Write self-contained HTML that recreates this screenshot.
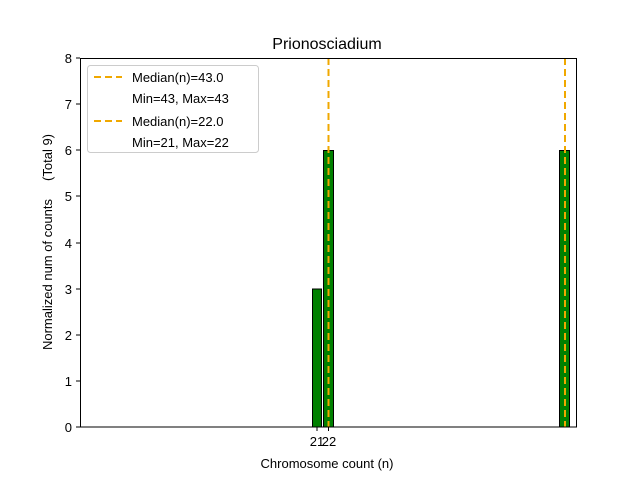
<!DOCTYPE html><html><head><style>body{margin:0;background:#fff}</style></head><body>
<svg width="640" height="480" xmlns="http://www.w3.org/2000/svg" font-family="Liberation Sans, DejaVu Sans, sans-serif">
<rect width="640" height="480" fill="#fff"/>
<g fill="#008000" stroke="#000" stroke-width="1">
<rect x="312.5" y="289" width="9" height="138"/>
<rect x="323.5" y="150.5" width="10" height="276.5"/>
<rect x="559.5" y="150.5" width="10" height="276.5"/>
</g>
<g stroke="#f0a800" stroke-width="2" stroke-dasharray="7,4">
<line x1="328.5" y1="58" x2="328.5" y2="427"/>
<line x1="565" y1="58" x2="565" y2="427"/>
</g>
<rect x="80.5" y="58.5" width="496" height="368.5" fill="none" stroke="#000"/>
<g stroke="#000"><line x1="76" y1="427" x2="80" y2="427"/><line x1="76" y1="381" x2="80" y2="381"/><line x1="76" y1="335" x2="80" y2="335"/><line x1="76" y1="289" x2="80" y2="289"/><line x1="76" y1="243" x2="80" y2="243"/><line x1="76" y1="196" x2="80" y2="196"/><line x1="76" y1="150" x2="80" y2="150"/><line x1="76" y1="104" x2="80" y2="104"/><line x1="76" y1="58" x2="80" y2="58"/>
<line x1="317" y1="427" x2="317" y2="431"/><line x1="328.5" y1="427" x2="328.5" y2="431"/></g>
<g font-size="13" text-anchor="end">
<text x="72" y="432">0</text><text x="72" y="386">1</text><text x="72" y="340">2</text><text x="72" y="294">3</text><text x="72" y="248">4</text><text x="72" y="201">5</text><text x="72" y="155">6</text><text x="72" y="109">7</text><text x="72" y="63">8</text></g>
<g font-size="13" text-anchor="middle"><text x="317" y="446">21</text><text x="329" y="446">22</text>
<text x="327" y="468">Chromosome count (n)</text>
<text x="327" y="49" font-size="16">Prionosciadium</text>
<text transform="translate(52,242) rotate(-90)" style="white-space:pre" xml:space="preserve">Normalized num of counts     (Total 9)</text></g>
<rect x="87.5" y="65.5" width="171" height="87" fill="#fff" stroke="#ccc" rx="3"/>
<g stroke="#f0a800" stroke-width="2" stroke-dasharray="7,4"><line x1="94" y1="77" x2="122" y2="77"/><line x1="94" y1="121" x2="122" y2="121"/></g>
<g font-size="13"><text x="132" y="82">Median(n)=43.0</text><text x="132" y="103">Min=43, Max=43</text><text x="132" y="126">Median(n)=22.0</text><text x="132" y="147">Min=21, Max=22</text></g>
</svg></body></html>
